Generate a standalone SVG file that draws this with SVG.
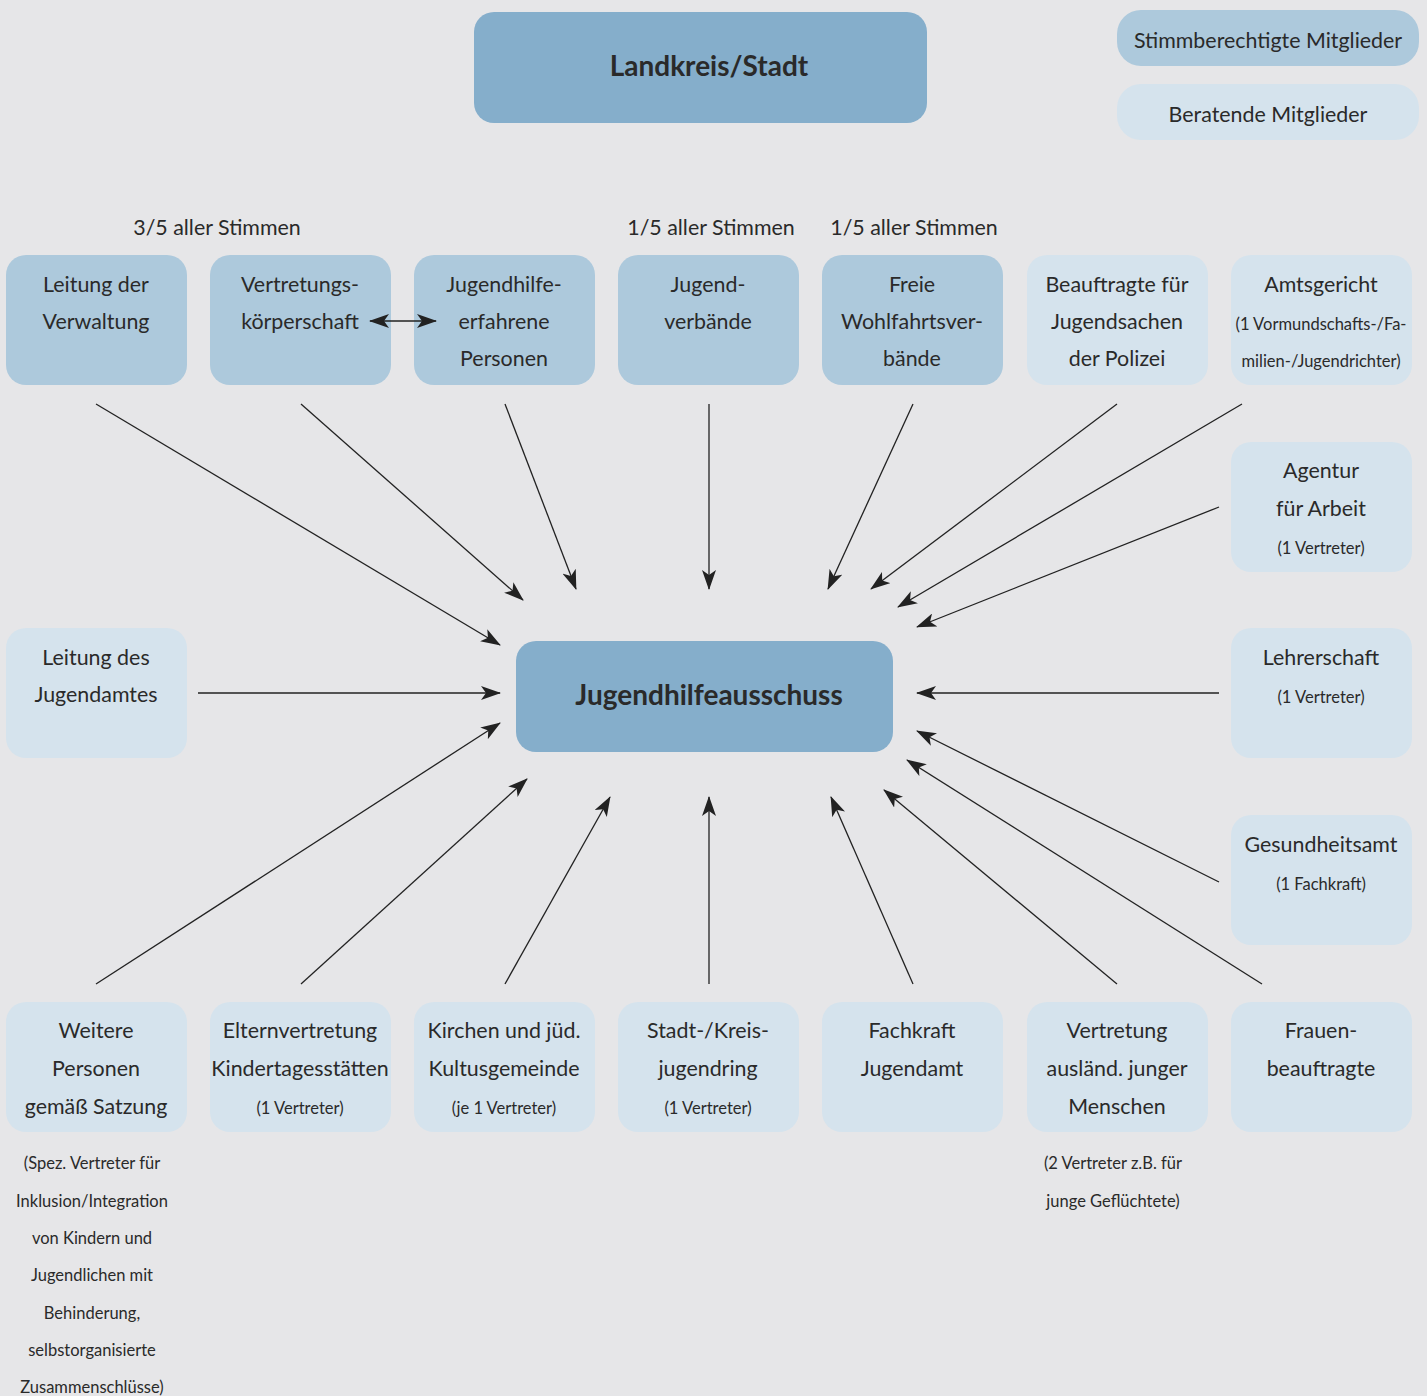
<svg xmlns="http://www.w3.org/2000/svg" width="1427" height="1396" viewBox="0 0 1427 1396">
<defs>
<style>
.bg{fill:#e6e6e8}
.d{fill:#85aecb}
.m{fill:#adc9dc}
.l{fill:#d5e3ed}
text{font-family:Lato,"Open Sans","Liberation Sans",sans-serif;fill:#2a2a2a;text-anchor:middle}
.t{font-size:21.4px}
.s{font-size:16.5px}
.h{font-size:28px;font-weight:bold}
.c line{stroke:#222;stroke-width:1.3;marker-end:url(#ah)}
</style>
<marker id="ah" viewBox="0 0 20 14" refX="19" refY="7" markerWidth="20" markerHeight="14" markerUnits="userSpaceOnUse" orient="auto-start-reverse">
<path d="M0,0 L20,7 L0,14 L5,7 Z" fill="#222"/>
</marker>
</defs>
<rect class="bg" width="1427" height="1396"/>

<g id="legend-stimm"><rect class="m" x="1117" y="10" width="302" height="56" rx="24"/><text class="t" x="1268" y="48">Stimmberechtigte Mitglieder</text></g>
<g id="legend-berat"><rect class="l" x="1117" y="84" width="302" height="56" rx="24"/><text class="t" x="1268" y="122">Beratende Mitglieder</text></g>

<g id="landkreis"><rect class="d" x="474" y="12" width="453" height="111" rx="20"/><text class="h" x="709" y="76">Landkreis/Stadt</text></g>
<g id="jha"><rect class="d" x="516" y="641" width="377" height="111" rx="20"/><text class="h" x="709" y="705">Jugendhilfeausschuss</text></g>

<g id="labels">
<text class="t" x="217" y="235">3/5 aller Stimmen</text>
<text class="t" x="711" y="235">1/5 aller Stimmen</text>
<text class="t" x="914" y="235">1/5 aller Stimmen</text>
</g>

<g id="n1"><rect class="m" x="6" y="255" width="181" height="130" rx="20"/><text class="t" x="96" y="292">Leitung der</text><text class="t" x="96" y="329">Verwaltung</text></g>
<g id="n2"><rect class="m" x="210" y="255" width="181" height="130" rx="20"/><text class="t" x="300" y="292">Vertretungs-</text><text class="t" x="300" y="329">körperschaft</text></g>
<g id="n3"><rect class="m" x="414" y="255" width="181" height="130" rx="20"/><text class="t" x="504" y="292">Jugendhilfe-</text><text class="t" x="504" y="329">erfahrene</text><text class="t" x="504" y="366">Personen</text></g>
<g id="n4"><rect class="m" x="618" y="255" width="181" height="130" rx="20"/><text class="t" x="708" y="292">Jugend-</text><text class="t" x="708" y="329">verbände</text></g>
<g id="n5"><rect class="m" x="822" y="255" width="181" height="130" rx="20"/><text class="t" x="912" y="292">Freie</text><text class="t" x="912" y="329">Wohlfahrtsver-</text><text class="t" x="912" y="366">bände</text></g>
<g id="n6"><rect class="l" x="1027" y="255" width="181" height="130" rx="20"/><text class="t" x="1117" y="292">Beauftragte für</text><text class="t" x="1117" y="329">Jugendsachen</text><text class="t" x="1117" y="366">der Polizei</text></g>
<g id="n7"><rect class="l" x="1231" y="255" width="181" height="130" rx="20"/><text class="t" x="1321" y="292">Amtsgericht</text><text class="s" x="1321" y="330">(1 Vormundschafts-/Fa-</text><text class="s" x="1321" y="367">milien-/Jugendrichter)</text></g>

<g id="n8"><rect class="l" x="1231" y="442" width="181" height="130" rx="20"/><text class="t" x="1321" y="478">Agentur</text><text class="t" x="1321" y="516">für Arbeit</text><text class="s" x="1321" y="554">(1 Vertreter)</text></g>
<g id="n9"><rect class="l" x="6" y="628" width="181" height="130" rx="20"/><text class="t" x="96" y="665">Leitung des</text><text class="t" x="96" y="702">Jugendamtes</text></g>
<g id="n10"><rect class="l" x="1231" y="628" width="181" height="130" rx="20"/><text class="t" x="1321" y="665">Lehrerschaft</text><text class="s" x="1321" y="703">(1 Vertreter)</text></g>
<g id="n11"><rect class="l" x="1231" y="815" width="181" height="130" rx="20"/><text class="t" x="1321" y="852">Gesundheitsamt</text><text class="s" x="1321" y="890">(1 Fachkraft)</text></g>

<g id="n12"><rect class="l" x="6" y="1002" width="181" height="130" rx="20"/><text class="t" x="96" y="1038">Weitere</text><text class="t" x="96" y="1076">Personen</text><text class="t" x="96" y="1114">gemäß Satzung</text></g>
<g id="n13"><rect class="l" x="210" y="1002" width="181" height="130" rx="20"/><text class="t" x="300" y="1038">Elternvertretung</text><text class="t" x="300" y="1076">Kindertagesstätten</text><text class="s" x="300" y="1114">(1 Vertreter)</text></g>
<g id="n14"><rect class="l" x="414" y="1002" width="181" height="130" rx="20"/><text class="t" x="504" y="1038">Kirchen und jüd.</text><text class="t" x="504" y="1076">Kultusgemeinde</text><text class="s" x="504" y="1114">(je 1 Vertreter)</text></g>
<g id="n15"><rect class="l" x="618" y="1002" width="181" height="130" rx="20"/><text class="t" x="708" y="1038">Stadt-/Kreis-</text><text class="t" x="708" y="1076">jugendring</text><text class="s" x="708" y="1114">(1 Vertreter)</text></g>
<g id="n16"><rect class="l" x="822" y="1002" width="181" height="130" rx="20"/><text class="t" x="912" y="1038">Fachkraft</text><text class="t" x="912" y="1076">Jugendamt</text></g>
<g id="n17"><rect class="l" x="1027" y="1002" width="181" height="130" rx="20"/><text class="t" x="1117" y="1038">Vertretung</text><text class="t" x="1117" y="1076">ausländ. junger</text><text class="t" x="1117" y="1114">Menschen</text></g>
<g id="n18"><rect class="l" x="1231" y="1002" width="181" height="130" rx="20"/><text class="t" x="1321" y="1038">Frauen-</text><text class="t" x="1321" y="1076">beauftragte</text></g>

<g id="notes">
<text class="s" x="92" y="1169">(Spez. Vertreter für</text>
<text class="s" x="92" y="1207">Inklusion/Integration</text>
<text class="s" x="92" y="1244">von Kindern und</text>
<text class="s" x="92" y="1281">Jugendlichen mit</text>
<text class="s" x="92" y="1319">Behinderung,</text>
<text class="s" x="92" y="1356">selbstorganisierte</text>
<text class="s" x="92" y="1393">Zusammenschlüsse)</text>
<text class="s" x="1113" y="1169">(2 Vertreter z.B. für</text>
<text class="s" x="1113" y="1207">junge Geflüchtete)</text>
</g>

<g id="connectors" class="c">
<line x1="370" y1="321" x2="436" y2="321" marker-start="url(#ah)"/>
<line x1="96" y1="404" x2="500" y2="645"/>
<line x1="301" y1="404" x2="523" y2="600"/>
<line x1="505" y1="404" x2="576" y2="589"/>
<line x1="709" y1="404" x2="709" y2="589"/>
<line x1="913" y1="404" x2="828" y2="589"/>
<line x1="1117" y1="404" x2="871" y2="589"/>
<line x1="1242" y1="404" x2="898" y2="607"/>
<line x1="1219" y1="507" x2="917" y2="627"/>
<line x1="198" y1="693" x2="500" y2="693"/>
<line x1="1219" y1="693" x2="917" y2="693"/>
<line x1="96" y1="984" x2="500" y2="723"/>
<line x1="301" y1="984" x2="527" y2="779"/>
<line x1="505" y1="984" x2="610" y2="797"/>
<line x1="709" y1="984" x2="709" y2="797"/>
<line x1="913" y1="984" x2="831" y2="797"/>
<line x1="1117" y1="984" x2="884" y2="790"/>
<line x1="1262" y1="984" x2="907" y2="760"/>
<line x1="1219" y1="882" x2="917" y2="731"/>
</g>
</svg>
